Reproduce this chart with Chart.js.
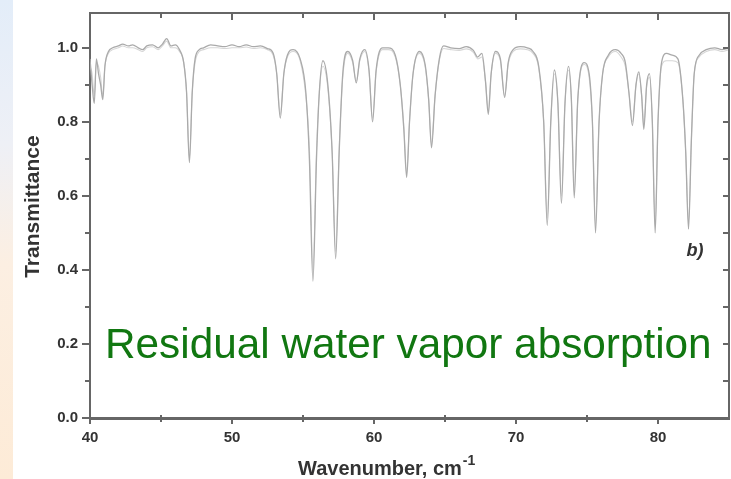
<!DOCTYPE html>
<html>
<head>
<meta charset="utf-8">
<script src="https://cdn.jsdelivr.net/npm/chart.js@4.4.1/dist/chart.umd.min.js"></script>
<style>
  html, body { margin: 0; padding: 0; background: #fff; }
  #wrap { position: relative; width: 731px; height: 479px; }
  #strip {
    position: absolute; left: 0; top: 0; width: 13px; height: 479px;
    background: linear-gradient(to bottom, #e3edf9 0%, #eef0f6 30%, #fcefe2 55%, #fdebd7 100%);
  }
  canvas { position: absolute; left: 0; top: 0; }
</style>
</head>
<body>
<div id="wrap">
  <div id="strip"></div>
  <canvas id="spectrum" width="731" height="479"></canvas>
</div>
<script>
// wavenumber, cm-1
const waveNumbers = [
  40.0, 40.15, 40.3, 40.45, 40.6, 40.75, 40.9, 41.05, 41.3, 41.6,
  42.0, 42.3, 42.7, 43.0, 43.4, 43.7, 44.0, 44.4, 44.8, 45.1,
  45.4, 45.7, 46.0, 46.3, 46.6, 46.8, 47.0, 47.2, 47.4, 47.7,
  48.0, 48.5, 49.0, 49.5, 50.0, 50.5, 51.0, 51.5, 52.0, 52.5,
  52.9, 53.15, 53.4, 53.65, 53.9, 54.3, 54.8, 55.2, 55.45, 55.7,
  55.95, 56.15, 56.4, 56.75, 57.05, 57.3, 57.55, 57.8, 58.15, 58.5,
  58.75, 59.0, 59.35, 59.65, 59.9, 60.15, 60.6, 61.0, 61.5, 61.85,
  62.1, 62.3, 62.5, 62.75, 63.2, 63.6, 63.85, 64.05, 64.3, 64.6,
  64.9, 65.4, 66.0, 66.5, 67.0, 67.3, 67.6, 67.85, 68.05, 68.25,
  68.55, 68.9, 69.2, 69.45, 69.8, 70.3, 70.8, 71.2, 71.6, 71.95,
  72.2, 72.45, 72.7, 72.95, 73.2, 73.45, 73.7, 73.9, 74.1, 74.35,
  74.8, 75.15, 75.38, 75.6, 75.85, 76.1, 76.5, 77.0, 77.4, 77.7,
  77.95, 78.2, 78.45, 78.65, 78.85, 79.0, 79.2, 79.4, 79.6, 79.8,
  80.0, 80.25, 80.6, 81.0, 81.4, 81.75, 81.95, 82.15, 82.35, 82.55,
  82.9, 83.4, 84.0, 84.5, 85.0
];

// darker trace
const transmittanceA = [
  0.97, 0.90, 0.85, 0.97, 0.93, 0.90, 0.86, 0.95, 0.99, 1.0,
  1.005, 1.01, 1.005, 1.008, 1.0, 0.995, 1.005, 1.008, 1.0, 1.01,
  1.025, 1.005, 1.008, 0.995, 0.96, 0.88, 0.69, 0.88, 0.97, 0.995,
  1.0, 1.008, 1.005, 1.003, 1.008, 1.003, 1.008, 1.003, 1.005, 0.998,
  0.985, 0.93, 0.81, 0.93, 0.98, 0.995, 0.97, 0.88, 0.70, 0.37,
  0.70, 0.88, 0.965, 0.90, 0.72, 0.43, 0.72, 0.93, 0.99, 0.965,
  0.905, 0.97, 0.995, 0.94, 0.80, 0.94, 1.0, 1.0, 0.98, 0.90,
  0.78, 0.65, 0.80, 0.93, 0.99, 0.955, 0.86, 0.73, 0.87, 0.97,
  1.005, 1.0, 0.998, 1.003, 0.993, 0.975, 0.985, 0.91, 0.82, 0.93,
  0.99, 0.97, 0.866, 0.96, 0.995, 1.003, 1.0, 0.99, 0.95, 0.80,
  0.52, 0.80, 0.94, 0.85, 0.58, 0.85, 0.95, 0.86, 0.595, 0.86,
  0.96, 0.93, 0.80, 0.50, 0.80, 0.93, 0.98, 0.995, 0.985, 0.96,
  0.88, 0.79, 0.90, 0.935, 0.87, 0.78, 0.90, 0.93, 0.80, 0.50,
  0.80, 0.96, 0.985, 0.98, 0.97, 0.86, 0.72, 0.51, 0.75, 0.93,
  0.98, 0.995, 1.0, 0.995, 1.0
];

// lighter trace
const transmittanceB = [
  0.95, 0.93, 0.87, 0.96, 0.95, 0.92, 0.87, 0.95, 0.985, 0.995,
  1.0, 1.005, 1.0, 1.0, 0.995, 0.99, 1.0, 1.003, 0.995, 1.005,
  1.018, 1.0, 1.0, 0.99, 0.96, 0.88, 0.70, 0.88, 0.96, 0.99,
  0.995, 1.0, 1.0, 0.998, 1.0, 1.0, 1.002, 0.998, 1.0, 0.995,
  0.98, 0.93, 0.82, 0.93, 0.975, 0.99, 0.965, 0.87, 0.73, 0.40,
  0.72, 0.88, 0.95, 0.89, 0.72, 0.45, 0.73, 0.92, 0.985, 0.96,
  0.91, 0.965, 0.99, 0.935, 0.81, 0.935, 0.995, 0.995, 0.975, 0.90,
  0.79, 0.66, 0.80, 0.93, 0.985, 0.95, 0.86, 0.74, 0.87, 0.965,
  0.998, 0.995, 0.993, 0.997, 0.988, 0.97, 0.975, 0.91, 0.83, 0.93,
  0.985, 0.965, 0.87, 0.955, 0.99, 0.997, 0.995, 0.985, 0.945, 0.80,
  0.54, 0.80, 0.93, 0.85, 0.60, 0.85, 0.94, 0.86, 0.61, 0.86,
  0.955, 0.92, 0.80, 0.52, 0.80, 0.93, 0.975, 0.99, 0.975, 0.95,
  0.88, 0.80, 0.90, 0.93, 0.87, 0.79, 0.895, 0.92, 0.80, 0.52,
  0.80, 0.95, 0.965, 0.965, 0.96, 0.86, 0.72, 0.53, 0.75, 0.93,
  0.975, 0.99, 0.995, 0.99, 0.995
];

const xMajorTicks = [40, 50, 60, 70, 80];
const xMinorTicks = [45, 55, 65, 75, 85];
const yMajorTicks = [0.0, 0.2, 0.4, 0.6, 0.8, 1.0];
const yMinorTicks = [0.1, 0.3, 0.5, 0.7, 0.9];

const xTitle = 'Wavenumber, cm';
const xTitleSup = '-1';
const yTitle = 'Transmittance';
const noteText = 'Residual water vapor absorption';
const panelLabel = 'b)';

const axisColor = '#666';
const textColor = '#333';
const fontFamily = "'Liberation Sans', Arial, sans-serif";

const toPoints = ys => waveNumbers.map((x, i) => ({ x: x, y: ys[i] }));

const framePlugin = {
  id: 'frame',
  afterDraw(chart) {
    const { ctx, chartArea: a, scales: { x, y } } = chart;
    ctx.save();
    ctx.strokeStyle = axisColor;
    ctx.lineWidth = 2;

    // top and right frame
    ctx.beginPath();
    ctx.moveTo(a.left, a.top);
    ctx.lineTo(a.right, a.top);
    ctx.lineTo(a.right, a.bottom);
    ctx.stroke();

    ctx.beginPath();
    // minor ticks on the left axis (outside)
    yMinorTicks.forEach(v => {
      const py = Math.round(y.getPixelForValue(v));
      ctx.moveTo(a.left - 5, py);
      ctx.lineTo(a.left, py);
    });
    // ticks on the right axis (inside)
    yMajorTicks.concat(yMinorTicks).forEach(v => {
      const py = Math.round(y.getPixelForValue(v));
      ctx.moveTo(a.right - 6, py);
      ctx.lineTo(a.right, py);
    });
    // minor ticks on the bottom axis
    xMinorTicks.forEach(v => {
      const px = Math.round(x.getPixelForValue(v));
      if (px >= a.right - 1) return;
      ctx.moveTo(px, a.bottom - 3);
      ctx.lineTo(px, a.bottom + 4);
    });
    // ticks on the top axis (inside)
    xMajorTicks.concat(xMinorTicks).forEach(v => {
      const px = Math.round(x.getPixelForValue(v));
      if (px <= a.left + 1 || px >= a.right - 1) return;
      ctx.moveTo(px, a.top);
      ctx.lineTo(px, a.top + (v % 10 === 0 ? 7 : 5));
    });
    ctx.stroke();

    // x axis title with superscript
    ctx.fillStyle = textColor;
    ctx.textBaseline = 'alphabetic';
    ctx.textAlign = 'left';
    ctx.font = 'bold 20px ' + fontFamily;
    const tx = x.getPixelForValue(54.65);
    const ty = a.bottom + 57;
    ctx.fillText(xTitle, tx, ty);
    const w = ctx.measureText(xTitle).width;
    ctx.font = 'bold 14px ' + fontFamily;
    ctx.fillText(xTitleSup, tx + w + 1, ty - 10);

    // y axis title
    ctx.save();
    ctx.translate(a.left - 57, y.getPixelForValue(0.571));
    ctx.rotate(-Math.PI / 2);
    ctx.textAlign = 'center';
    ctx.textBaseline = 'middle';
    ctx.font = 'bold 21px ' + fontFamily;
    ctx.fillText(yTitle, 0, 0);
    ctx.restore();

    // annotation
    ctx.fillStyle = '#117711';
    ctx.font = '42.3px ' + fontFamily;
    ctx.textAlign = 'left';
    ctx.textBaseline = 'alphabetic';
    ctx.fillText(noteText, x.getPixelForValue(41.06), y.getPixelForValue(0.161));

    // panel label
    ctx.fillStyle = textColor;
    ctx.font = 'italic bold 18px ' + fontFamily;
    ctx.fillText(panelLabel, x.getPixelForValue(82.0), y.getPixelForValue(0.437));

    ctx.restore();
  }
};

new Chart(document.getElementById('spectrum'), {
  type: 'line',
  data: {
    datasets: [
      {
        label: 'Transmittance',
        data: toPoints(transmittanceA),
        borderColor: '#aaaaaa',
        borderWidth: 1.3,
        pointRadius: 0,
        cubicInterpolationMode: 'monotone',
        fill: false
      },
      {
        label: 'Transmittance (2)',
        data: toPoints(transmittanceB),
        borderColor: '#d6d6d6',
        borderWidth: 1.1,
        pointRadius: 0,
        cubicInterpolationMode: 'monotone',
        fill: false
      }
    ]
  },
  options: {
    responsive: false,
    animation: false,
    parsing: false,
    layout: { padding: { top: 10, right: 2, left: 0, bottom: 0 } },
    plugins: {
      legend: { display: false },
      tooltip: { enabled: false }
    },
    scales: {
      x: {
        type: 'linear',
        min: 40,
        max: 85,
        afterBuildTicks: s => { s.ticks = xMajorTicks.map(v => ({ value: v })); },
        afterFit: s => { s.height = 61; },
        grid: { drawOnChartArea: false, drawTicks: true, tickLength: 6, color: axisColor, lineWidth: 2 },
        border: { display: true, color: axisColor, width: 3 },
        ticks: {
          padding: 5,
          color: textColor,
          autoSkip: false,
          maxRotation: 0,
          font: { family: fontFamily, size: 15, weight: 'bold' },
          callback: v => String(v)
        }
      },
      y: {
        type: 'linear',
        min: 0,
        max: 1.094,
        afterBuildTicks: s => { s.ticks = yMajorTicks.map(v => ({ value: v })); },
        afterFit: s => { s.width = 90; },
        grid: { drawOnChartArea: false, drawTicks: true, tickLength: 8, color: axisColor, lineWidth: 2 },
        border: { display: true, color: axisColor, width: 2 },
        ticks: {
          padding: 4,
          color: textColor,
          font: { family: fontFamily, size: 15, weight: 'bold' },
          callback: v => v.toFixed(1)
        }
      }
    }
  },
  plugins: [framePlugin]
});
</script>
</body>
</html>
